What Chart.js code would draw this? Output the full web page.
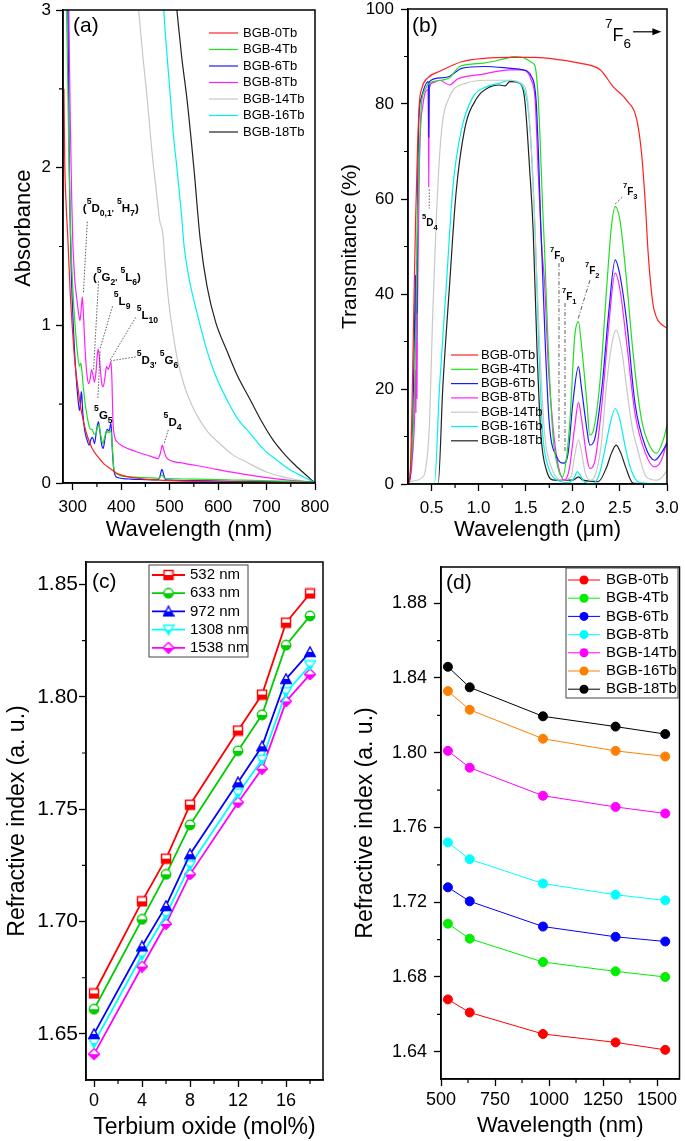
<!DOCTYPE html>
<html>
<head>
<meta charset="utf-8">
<script src="https://cdn.jsdelivr.net/npm/chart.js@4.4.1/dist/chart.umd.min.js"></script>
<style>
  html, body { margin: 0; padding: 0; background: #fff; }
  #wrap { position: relative; width: 685px; height: 1141px; overflow: hidden; }
  .pane { position: absolute; }
</style>
</head>
<body>
<div id="wrap">
  <div class="pane" style="left:0;top:0"><canvas id="chartA" width="340" height="545"></canvas></div>
  <div class="pane" style="left:340px;top:0"><canvas id="chartB" width="345" height="545"></canvas></div>
  <div class="pane" style="left:0;top:545px"><canvas id="chartC" width="340" height="596"></canvas></div>
  <div class="pane" style="left:340px;top:545px"><canvas id="chartD" width="345" height="596"></canvas></div>
</div>
<script>
const FONT = "'Liberation Sans', Arial, Helvetica, sans-serif";

// sample names and line colours (shared by a, b, d)
const sampleNames = ['BGB-0Tb', 'BGB-4Tb', 'BGB-6Tb', 'BGB-8Tb', 'BGB-14Tb', 'BGB-16Tb', 'BGB-18Tb'];
const specColors = ['#ff2020', '#22dd22', '#1a1aff', '#ff20ff', '#c8c8c8', '#00f0f0', '#222222'];

//(a) ABSORPTION: wavelength (nm) / absorbance
const abs0_nm = [282, 283.5, 286, 290, 295, 300, 305, 311, 317, 323, 330, 340, 351, 365, 378, 392, 412, 450, 500, 600, 700, 800];
const abs0_A = [2.5, 2.05, 1.8, 1.55, 1.2, 0.95, 0.75, 0.6, 0.47, 0.38, 0.3, 0.22, 0.17, 0.12, 0.09, 0.06, 0.04, 0.025, 0.015, 0.008, 0.004, 0];
const abs4_nm = [286, 289, 292, 296, 300, 305, 310, 314, 316, 318, 321, 325, 330, 334, 337, 340, 344, 347, 351, 354, 358, 362, 366, 370, 374, 379, 382, 385, 390, 400, 450, 478, 484, 490, 550, 650, 750, 800];
const abs4_A = [3.2, 2.7, 2.1, 1.55, 1.25, 1.0, 0.82, 0.74, 0.76, 0.74, 0.64, 0.52, 0.42, 0.36, 0.34, 0.34, 0.31, 0.31, 0.35, 0.37, 0.3, 0.25, 0.29, 0.33, 0.32, 0.33, 0.22, 0.09, 0.06, 0.045, 0.035, 0.03, 0.05, 0.03, 0.025, 0.018, 0.01, 0.005];
const abs6_nm = [288, 290, 293, 297, 302, 307, 311, 314, 316, 317.5, 319, 321, 325, 330, 334, 338, 341, 345, 349, 353, 356, 360, 363, 367, 371, 375, 379, 382, 385, 392, 420, 475, 480, 484, 488, 492, 550, 650, 800];
const abs6_A = [3.3, 3.0, 2.0, 1.35, 0.95, 0.68, 0.53, 0.46, 0.5, 0.58, 0.55, 0.44, 0.33, 0.27, 0.24, 0.28, 0.29, 0.25, 0.33, 0.39, 0.33, 0.24, 0.22, 0.29, 0.34, 0.33, 0.38, 0.2, 0.08, 0.035, 0.025, 0.02, 0.04, 0.087, 0.05, 0.02, 0.015, 0.01, 0.005];
const abs8_nm = [289, 292, 295, 298, 300, 304, 308, 312, 315, 318, 320, 322, 325, 329, 333, 336, 339, 342, 345, 348, 351, 353, 356, 360, 363, 367, 370, 373, 376, 379, 381, 383, 386, 392, 400, 430, 460, 476, 481, 485, 488, 492, 497, 530, 575, 625, 675, 725, 775, 800];
const abs8_A = [3.6, 3.0, 2.3, 1.8, 1.55, 1.3, 1.18, 1.08, 1.03, 1.12, 1.18, 1.08, 0.88, 0.7, 0.63, 0.66, 0.72, 0.68, 0.64, 0.7, 0.82, 0.85, 0.76, 0.63, 0.61, 0.68, 0.74, 0.72, 0.74, 0.77, 0.65, 0.4, 0.3, 0.26, 0.24, 0.2, 0.17, 0.155, 0.19, 0.24, 0.21, 0.17, 0.15, 0.125, 0.1, 0.07, 0.045, 0.025, 0.01, 0.005];
const abs14_nm = [430, 436, 445, 454, 462, 467, 473, 478, 481, 484, 487, 490, 495, 500, 508, 515, 530, 545, 560, 580, 600, 630, 660, 700, 740, 770, 800];
const abs14_A = [3.15, 3.0, 2.7, 2.43, 2.15, 2.0, 1.84, 1.7, 1.64, 1.62, 1.55, 1.42, 1.24, 1.1, 0.93, 0.8, 0.62, 0.5, 0.41, 0.32, 0.26, 0.18, 0.13, 0.07, 0.035, 0.015, 0];
const abs16_nm = [485, 488, 495, 502, 508, 515, 524, 530, 540, 550, 563, 577, 595, 618, 640, 666, 695, 721, 745, 769, 785, 800];
const abs16_A = [3.2, 3.0, 2.7, 2.43, 2.2, 2.0, 1.72, 1.5, 1.3, 1.16, 1.0, 0.84, 0.68, 0.53, 0.41, 0.315, 0.21, 0.146, 0.09, 0.05, 0.025, 0];
const abs18_nm = [510, 515, 525, 536, 550, 563, 577, 595, 618, 640, 666, 690, 714, 735, 755, 778, 800];
const abs18_A = [3.15, 3.0, 2.7, 2.43, 2.0, 1.55, 1.25, 1.02, 0.84, 0.68, 0.53, 0.39, 0.27, 0.19, 0.125, 0.06, 0];

const absTicksX = [300, 400, 500, 600, 700, 800];
const absMinorX = [350, 450, 550, 650, 750];
const absTicksY = [0, 1, 2, 3];
const absMinorY = [0.5, 1.5, 2.5];

//(b) TRANSMITTANCE: wavelength (um) / T (%)
const tr0_um = [0.25, 0.27, 0.29, 0.31, 0.33, 0.35, 0.37, 0.40, 0.46, 0.60, 0.82, 1.06, 1.35, 1.60, 1.86, 2.07, 2.29, 2.43, 2.57, 2.68, 2.73, 2.77, 2.80, 2.85, 2.89, 2.93, 3.0];
const tr0_T = [0, 1, 14, 35, 55, 70, 80, 83.5, 85.5, 87, 88.9, 89.6, 89.8, 89.8, 89.3, 88.6, 87.2, 83.6, 80.8, 76.6, 69.6, 59, 48.6, 38, 35, 33.8, 32.8];
const tr4_um = [0.25, 0.27, 0.30, 0.32, 0.335, 0.344, 0.36, 0.372, 0.39, 0.43, 0.48, 0.60, 0.69, 0.80, 1.05, 1.29, 1.38, 1.45, 1.52, 1.56, 1.60, 1.63, 1.65, 1.68, 1.70, 1.74, 1.79, 1.84, 1.89, 1.93, 1.97, 2.02, 2.06, 2.09, 2.15, 2.18, 2.22, 2.29, 2.36, 2.41, 2.45, 2.50, 2.57, 2.64, 2.73, 2.82, 2.89, 2.96, 3.0];
const tr4_T = [1.5, 2, 10, 20, 35, 48.6, 62, 69.7, 79.4, 83, 84.4, 85, 85.5, 87.9, 88.6, 89.6, 90, 89.9, 89.3, 88.8, 87.9, 82, 73.9, 58, 49.3, 28.2, 10, 3.6, 1.5, 5, 13.5, 31, 34.2, 29.6, 17, 10.3, 11.4, 21.9, 41.5, 54.2, 58.4, 55.6, 43, 27.5, 13.5, 7.9, 6.5, 9.3, 12.4];
const tr6_um = [0.25, 0.28, 0.30, 0.32, 0.33, 0.335, 0.34, 0.345, 0.35, 0.365, 0.39, 0.465, 0.47, 0.475, 0.60, 0.69, 0.82, 1.06, 1.35, 1.47, 1.56, 1.61, 1.64, 1.66, 1.67, 1.71, 1.75, 1.83, 1.90, 1.95, 2.0, 2.06, 2.09, 2.15, 2.18, 2.23, 2.31, 2.38, 2.45, 2.50, 2.57, 2.66, 2.77, 2.87, 2.94, 3.0];
const tr6_T = [0, 3, 12, 34, 44, 30, 47, 36, 55, 76.6, 81.2, 84.7, 73, 84.7, 85.5, 85.8, 87.5, 87.9, 87.5, 87.2, 85.8, 80.8, 66.8, 54, 49.3, 28.2, 12.8, 5.7, 4.4, 6.5, 17, 24.7, 20.5, 11.4, 8.2, 9.3, 20.5, 35.9, 47.2, 44, 34.5, 17, 7.9, 5, 6.5, 8.6];
const tr8_um = [0.25, 0.28, 0.30, 0.32, 0.33, 0.335, 0.34, 0.345, 0.35, 0.354, 0.372, 0.41, 0.465, 0.47, 0.475, 0.514, 0.585, 0.69, 0.78, 1.05, 1.33, 1.47, 1.56, 1.60, 1.63, 1.67, 1.70, 1.74, 1.79, 1.84, 1.91, 1.96, 2.02, 2.06, 2.09, 2.15, 2.18, 2.23, 2.31, 2.38, 2.45, 2.50, 2.57, 2.66, 2.77, 2.87, 2.94, 3.0];
const tr8_T = [0, 2, 6.5, 14, 24, 15, 30, 18, 35, 41.5, 68.2, 80, 83, 62.6, 83, 84.5, 85, 84, 85.3, 86.3, 87.2, 87.2, 85, 80.8, 66.8, 50, 42.3, 24.7, 12, 4.4, 0.8, 2.9, 12, 17.2, 14, 5.5, 3.3, 4.5, 17, 33, 44.4, 41, 30, 14.9, 6.5, 3.6, 5, 8.9];
const tr14_um = [0.25, 0.41, 0.45, 0.48, 0.51, 0.55, 0.60, 0.69, 0.87, 1.08, 1.33, 1.45, 1.52, 1.56, 1.60, 1.65, 1.70, 1.77, 1.88, 1.98, 2.02, 2.06, 2.09, 2.13, 2.18, 2.24, 2.30, 2.36, 2.41, 2.46, 2.52, 2.57, 2.63, 2.68, 2.78, 2.89, 2.95, 3.0];
const tr14_T = [0.5, 1.5, 5, 13.5, 34.5, 55.6, 73.1, 81.5, 84.4, 85, 85, 84.4, 80.8, 70.3, 52.8, 28.2, 10.7, 3.6, 0.8, 1.5, 6, 9.3, 7, 2.5, 0.8, 2, 8, 21.2, 29, 32.4, 28, 20.5, 12, 7.9, 1.5, 0.8, 1.5, 2.9];
const tr16_um = [0.25, 0.53, 0.585, 0.656, 0.727, 0.816, 0.94, 1.08, 1.22, 1.33, 1.40, 1.51, 1.56, 1.60, 1.64, 1.68, 1.74, 1.84, 1.95, 2.01, 2.05, 2.08, 2.12, 2.20, 2.28, 2.34, 2.40, 2.45, 2.50, 2.56, 2.62, 2.71, 3.0];
const tr16_T = [0, 0, 20.5, 41.5, 62.6, 74.5, 81.5, 83.6, 84.4, 85, 84.7, 81, 70.3, 52.8, 28.2, 10.7, 3.6, 0.8, 0.3, 1.2, 2.6, 1.8, 0.5, 0, 2, 7.2, 13, 15.9, 13.5, 7.5, 2.9, 0.3, 0];
const tr18_um = [0.25, 0.57, 0.62, 0.69, 0.76, 0.85, 0.98, 1.12, 1.22, 1.28, 1.33, 1.43, 1.49, 1.54, 1.58, 1.62, 1.66, 1.72, 1.81, 2.0, 2.06, 2.11, 2.27, 2.36, 2.41, 2.46, 2.51, 2.56, 2.64, 3.0];
const tr18_T = [0, 0, 20.5, 41.5, 61.2, 74.5, 81.2, 83.6, 84, 83.8, 84.7, 84.4, 80.8, 66.8, 52.8, 28.2, 10.7, 2.9, 0.8, 0.8, 1.5, 0.8, 0.5, 3.6, 6.5, 8.2, 6.5, 3.6, 0.2, 0];

const trTicksX = [0.5, 1.0, 1.5, 2.0, 2.5, 3.0];
const trMinorX = [0.75, 1.25, 1.75, 2.25, 2.75];
const trTicksY = [0, 20, 40, 60, 80, 100];
const trMinorY = [10, 30, 50, 70, 90];

//(c) REFRACTIVE INDEX vs Tb2O3 content
const tbMol = [0, 4, 6, 8, 12, 14, 16, 18];
const n532 = [1.668, 1.709, 1.728, 1.752, 1.785, 1.801, 1.833, 1.846];
const n633 = [1.661, 1.701, 1.721, 1.743, 1.776, 1.792, 1.823, 1.836];
const n972 = [1.650, 1.689, 1.707, 1.730, 1.762, 1.778, 1.808, 1.820];
const n1308 = [1.646, 1.685, 1.703, 1.725, 1.757, 1.772, 1.802, 1.814];
const n1538 = [1.641, 1.680, 1.699, 1.721, 1.753, 1.768, 1.798, 1.810];
const probeLabels = ['532 nm', '633 nm', '972 nm', '1308 nm', '1538 nm'];
const molTicks = [0, 4, 8, 12, 16];
const molMinor = [2, 6, 10, 14, 18];
const ncTicks = [1.65, 1.70, 1.75, 1.80, 1.85];
const ncMinor = [1.675, 1.725, 1.775, 1.825];

//(d) REFRACTIVE INDEX vs wavelength
const probeNm = [532, 633, 972, 1308, 1538];
const nTb0 = [1.668, 1.661, 1.6495, 1.645, 1.641];
const nTb4 = [1.7085, 1.7005, 1.688, 1.683, 1.680];
const nTb6 = [1.728, 1.7205, 1.707, 1.7015, 1.699];
const nTb8 = [1.752, 1.743, 1.730, 1.724, 1.721];
const nTb14 = [1.801, 1.792, 1.777, 1.771, 1.7675];
const nTb16 = [1.833, 1.823, 1.8075, 1.801, 1.798];
const nTb18 = [1.846, 1.835, 1.8195, 1.814, 1.810];
const dColors = ['#ff0000', '#00ee00', '#0000ff', '#00ffff', '#ff00ff', '#ff8000', '#000000'];
const wlTicks = [500, 750, 1000, 1250, 1500];
const wlMinor = [625, 875, 1125, 1375];
const ndTicks = [1.64, 1.68, 1.72, 1.76, 1.80, 1.84, 1.88];
const ndMinor = [1.66, 1.70, 1.74, 1.78, 1.82, 1.86];

function pts(xs, ys) { return xs.map((x, i) => ({ x: x, y: ys[i] })); }

// rich text: ^{sup} _{sub}
function drawRich(ctx, str, x, y, size, weight) {
  const re = /\^\{([^}]*)\}|_\{([^}]*)\}|([^^_]+)/g;
  let m, cx = x;
  while ((m = re.exec(str))) {
    let t = m[3], fs = size, dy = 0;
    if (m[1] !== undefined) { t = m[1]; fs = size * 0.75; dy = -size * 0.72; }
    if (m[2] !== undefined) { t = m[2]; fs = size * 0.75; dy = size * 0.35; }
    ctx.font = weight + ' ' + fs + 'px ' + FONT;
    ctx.fillText(t, cx, y + dy);
    cx += ctx.measureText(t).width;
  }
}

function halfMarker(shape, color) {
  const s = 12, c = document.createElement('canvas');
  c.width = s; c.height = s;
  const g = c.getContext('2d');
  const path = () => {
    g.beginPath();
    if (shape === 'square') g.rect(1.5, 1.5, 9, 9);
    else if (shape === 'circle') g.arc(6, 6, 4.7, 0, Math.PI * 2);
    else if (shape === 'up') { g.moveTo(6, 1); g.lineTo(11.2, 10.5); g.lineTo(0.8, 10.5); }
    else if (shape === 'down') { g.moveTo(0.8, 1.5); g.lineTo(11.2, 1.5); g.lineTo(6, 11); }
    else { g.moveTo(6, 0.6); g.lineTo(11.4, 6); g.lineTo(6, 11.4); g.lineTo(0.6, 6); }
    g.closePath();
  };
  path(); g.fillStyle = '#fff'; g.fill();
  g.save(); path(); g.clip(); g.fillStyle = color; g.fillRect(0, 6, s, 6); g.restore();
  path(); g.strokeStyle = color; g.lineWidth = 1.4; g.stroke();
  return c;
}

function axis(o) {
  const vertical = o.pos === 'left';
  return {
    type: 'linear', position: o.pos, min: o.min, max: o.max,
    afterBuildTicks: s => { s.ticks = o.ticks.map(v => ({ value: v })); },
    afterFit: s => {
      if (vertical) { s.width = o.fit; s.paddingTop = 0; s.paddingBottom = 0; }
      else { s.height = o.fit; s.paddingLeft = 0; s.paddingRight = 0; }
    },
    grid: { drawOnChartArea: false, drawTicks: true, tickLength: 7, tickWidth: 1.3, tickColor: '#000' },
    border: { display: true, color: '#000', width: 1.5 },
    ticks: { color: '#000', padding: o.tickPad, autoSkip: false, maxRotation: 0,
             font: { family: FONT, size: o.tickSize }, callback: v => o.fmt(v) },
    title: { display: true, text: o.title, color: '#000',
             font: { family: FONT, size: o.titleSize, lineHeight: 1 },
             padding: { top: o.titlePad, bottom: o.titlePad } }
  };
}

// frame, minor ticks, panel tag, legend and transition labels
function makeDeco(cfg) {
  return {
    id: 'deco',
    afterDraw(chart) {
      const ctx = chart.ctx, a = chart.chartArea, sx = chart.scales.x, sy = chart.scales.y;
      ctx.save();
      ctx.strokeStyle = '#000';
      ctx.lineWidth = 1.2;
      ctx.beginPath();
      cfg.xMinor.forEach(v => { const p = sx.getPixelForValue(v); ctx.moveTo(p, a.bottom); ctx.lineTo(p, a.bottom + 4); });
      cfg.yMinor.forEach(v => { const p = sy.getPixelForValue(v); ctx.moveTo(a.left, p); ctx.lineTo(a.left - 4, p); });
      ctx.stroke();
      ctx.lineWidth = 1.5;
      ctx.strokeRect(a.left, a.top, a.right - a.left, a.bottom - a.top);

      ctx.fillStyle = '#000';
      ctx.textAlign = 'left';
      ctx.textBaseline = 'alphabetic';
      ctx.font = cfg.tag.size + 'px ' + FONT;
      ctx.fillText(cfg.tag.text, cfg.tag.x, cfg.tag.y);

      (cfg.notes || []).forEach(n => {
        if (n.lead) {
          ctx.save();
          ctx.strokeStyle = '#333'; ctx.lineWidth = 0.8;
          ctx.setLineDash(n.dash || [1.5, 1.5]);
          ctx.beginPath();
          ctx.moveTo(sx.getPixelForValue(n.lead[0]), sy.getPixelForValue(n.lead[1]));
          ctx.lineTo(sx.getPixelForValue(n.lead[2]), sy.getPixelForValue(n.lead[3]));
          ctx.stroke();
          ctx.restore();
        }
        if (n.arrow) {
          const x1 = sx.getPixelForValue(n.arrow[0]), x2 = sx.getPixelForValue(n.arrow[2]);
          const yy = sy.getPixelForValue(n.arrow[1]);
          ctx.lineWidth = 1.2;
          ctx.beginPath(); ctx.moveTo(x1, yy); ctx.lineTo(x2 - 6, yy); ctx.stroke();
          ctx.beginPath(); ctx.moveTo(x2, yy); ctx.lineTo(x2 - 9, yy - 3.5); ctx.lineTo(x2 - 9, yy + 3.5); ctx.closePath(); ctx.fill();
        }
        drawRich(ctx, n.text, sx.getPixelForValue(n.at[0]), sy.getPixelForValue(n.at[1]),
                 n.size || cfg.noteSize, n.weight || 'bold');
      });

      const L = cfg.legend;
      if (L.box) { ctx.strokeStyle = '#444'; ctx.lineWidth = 1; ctx.strokeRect(L.box[0], L.box[1], L.box[2], L.box[3]); }
      chart.data.datasets.forEach((ds, i) => {
        const yy = L.y + i * L.dy;
        ctx.strokeStyle = ds.borderColor; ctx.lineWidth = ds.borderWidth;
        ctx.beginPath(); ctx.moveTo(L.x, yy); ctx.lineTo(L.x + L.len, yy); ctx.stroke();
        const mx = L.x + L.len / 2;
        if (ds.pointStyle && ds.pointStyle.getContext) {
          ctx.drawImage(ds.pointStyle, mx - ds.pointStyle.width / 2, yy - ds.pointStyle.height / 2);
        } else if (L.dot) {
          ctx.fillStyle = ds.pointBackgroundColor;
          ctx.beginPath(); ctx.arc(mx, yy, L.dot, 0, Math.PI * 2); ctx.fill();
        }
        ctx.fillStyle = '#000';
        ctx.font = L.size + 'px ' + FONT;
        ctx.textBaseline = 'middle';
        ctx.fillText(ds.label, L.x + L.len + L.gap, yy);
        ctx.textBaseline = 'alphabetic';
      });
      ctx.restore();
    }
  };
}

function specSet(label, color, xs, ys) {
  return { label: label, data: pts(xs, ys), borderColor: color, backgroundColor: color,
           borderWidth: 1.2, pointRadius: 0, cubicInterpolationMode: 'monotone', fill: false };
}

// ---------- (a) ----------
const absX = [abs0_nm, abs4_nm, abs6_nm, abs8_nm, abs14_nm, abs16_nm, abs18_nm];
const absY = [abs0_A, abs4_A, abs6_A, abs8_A, abs14_A, abs16_A, abs18_A];
new Chart(document.getElementById('chartA'), {
  type: 'line',
  data: { datasets: sampleNames.map((n, i) => specSet(n, specColors[i], absX[i], absY[i])) },
  options: {
    responsive: false, animation: false, events: [],
    layout: { padding: { top: 10, right: 25, left: 0, bottom: 0 } },
    plugins: { legend: { display: false }, tooltip: { enabled: false } },
    scales: {
      x: axis({ pos: 'bottom', min: 280, max: 800, ticks: absTicksX, fmt: v => String(v), fit: 62,
                tickSize: 17, tickPad: 7, title: 'Wavelength (nm)', titleSize: 22, titlePad: 4 }),
      // leading no-break spaces lift the rotated title to where the original sits
      y: axis({ pos: 'left', min: 0, max: 3, ticks: absTicksY, fmt: v => String(v), fit: 63,
                tickSize: 17, tickPad: 5, title: '\u00a0\u00a0\u00a0\u00a0\u00a0\u00a0Absorbance', titleSize: 22, titlePad: 13 })
    }
  },
  plugins: [makeDeco({
    xMinor: absMinorX, yMinor: absMinorY,
    tag: { text: '(a)', x: 73, y: 32, size: 21 },
    noteSize: 11.5,
    notes: [
      { text: "(^{5}D_{0,1'} ^{5}H_{7})", at: [321, 1.72], lead: [330.2, 1.657, 322, 1.2] },
      { text: "(^{5}G_{2'} ^{5}L_{6})", at: [341.7, 1.28], lead: [353.4, 1.28, 343.1, 0.72] },
      { text: '^{5}L_{9}', at: [384.9, 1.13], lead: [382.2, 1.12, 356.7, 0.855] },
      { text: '^{5}L_{10}', at: [432, 1.04], lead: [430, 1.05, 377.3, 0.78] },
      { text: "^{5}D_{3'} ^{5}G_{6}", at: [432, 0.755], lead: [430, 0.8, 378.7, 0.775] },
      { text: '^{5}G_{5}', at: [344.2, 0.406], lead: [352, 0.54, 356.7, 0.84] },
      { text: '^{5}D_{4}', at: [487.6, 0.361], lead: [497.2, 0.336, 488.2, 0.245] }
    ],
    legend: { x: 209, y: 33, dy: 16.5, len: 29, gap: 5, size: 13 }
  })]
});

// ---------- (b) ----------
const trX = [tr0_um, tr4_um, tr6_um, tr8_um, tr14_um, tr16_um, tr18_um];
const trY = [tr0_T, tr4_T, tr6_T, tr8_T, tr14_T, tr16_T, tr18_T];
new Chart(document.getElementById('chartB'), {
  type: 'line',
  data: { datasets: sampleNames.map((n, i) => specSet(n, specColors[i], trX[i], trY[i])) },
  options: {
    responsive: false, animation: false, events: [],
    layout: { padding: { top: 9, right: 18, left: 0, bottom: 0 } },
    plugins: { legend: { display: false }, tooltip: { enabled: false } },
    scales: {
      x: axis({ pos: 'bottom', min: 0.25, max: 3.0, ticks: trTicksX, fmt: v => v.toFixed(1), fit: 61,
                tickSize: 17, tickPad: 7, title: 'Wavelength (\u03bcm)', titleSize: 22, titlePad: 4 }),
      y: axis({ pos: 'left', min: 0, max: 100, ticks: trTicksY, fmt: v => String(v), fit: 68,
                tickSize: 17, tickPad: 7, title: 'Transmitance (%)', titleSize: 21, titlePad: 0 })
    }
  },
  plugins: [makeDeco({
    xMinor: trMinorX, yMinor: trMinorY,
    tag: { text: '(b)', x: 72, y: 32, size: 21 },
    noteSize: 10,
    notes: [
      { text: '^{7}F_{6}', at: [2.342, 93.2], size: 18, weight: 'normal', arrow: [2.64, 95.2, 2.94, 95.2] },
      { text: '^{5}D_{4}', at: [0.399, 54.3], lead: [0.476, 62, 0.476, 58] },
      { text: '^{7}F_{0}', at: [1.758, 47.4], lead: [1.853, 46.5, 1.853, 8.8], dash: [4, 2, 1, 2] },
      { text: '^{7}F_{1}', at: [1.885, 38.7], lead: [1.917, 38.1, 1.917, 6.5], dash: [4, 2, 1, 2] },
      { text: '^{7}F_{2}', at: [2.129, 44.2], lead: [2.182, 42.9, 2.052, 34.5], dash: [4, 2, 1, 2] },
      { text: '^{7}F_{3}', at: [2.533, 60.8], lead: [2.525, 60.4, 2.448, 58.9], dash: [2, 2] }
    ],
    legend: { x: 111, y: 355, dy: 14.3, len: 27, gap: 3, size: 13 }
  })]
});

// ---------- (c) ----------
const ncSeries = [n532, n633, n972, n1308, n1538];
const ncColors = ['#ff0000', '#00cc00', '#0000ff', '#00ffff', '#ff00ff'];
const ncShapes = ['square', 'circle', 'up', 'down', 'diamond'];
new Chart(document.getElementById('chartC'), {
  type: 'line',
  data: {
    datasets: probeLabels.map((l, i) => ({
      label: l, data: pts(tbMol, ncSeries[i]), borderColor: ncColors[i], backgroundColor: ncColors[i],
      borderWidth: 1.8, pointStyle: halfMarker(ncShapes[i], ncColors[i]), pointRadius: 6, fill: false
    }))
  },
  options: {
    responsive: false, animation: false, events: [],
    layout: { padding: { top: 17, right: 17, left: 0, bottom: 0 } },
    plugins: { legend: { display: false }, tooltip: { enabled: false } },
    scales: {
      x: axis({ pos: 'bottom', min: -0.67, max: 19.08, ticks: molTicks, fmt: v => String(v), fit: 61,
                tickSize: 18, tickPad: 3, title: 'Terbium oxide (mol%)', titleSize: 23, titlePad: 2 }),
      y: axis({ pos: 'left', min: 1.6295, max: 1.860, ticks: ncTicks, fmt: v => v.toFixed(2), fit: 86,
                tickSize: 21, tickPad: 1, title: 'Refractive index (a. u.)', titleSize: 23, titlePad: 6 })
    }
  },
  plugins: [makeDeco({
    xMinor: molMinor, yMinor: ncMinor,
    tag: { text: '(c)', x: 92, y: 43, size: 21 },
    legend: { x: 152, y: 30, dy: 18.2, len: 33, gap: 5, size: 15, box: [149, 20, 99, 92] }
  })]
});

// ---------- (d) ----------
const ndSeries = [nTb0, nTb4, nTb6, nTb8, nTb14, nTb16, nTb18];
new Chart(document.getElementById('chartD'), {
  type: 'line',
  data: {
    datasets: sampleNames.map((n, i) => ({
      label: n, data: pts(probeNm, ndSeries[i]), borderColor: dColors[i], backgroundColor: dColors[i],
      pointBackgroundColor: dColors[i], pointBorderColor: dColors[i],
      borderWidth: 1, pointRadius: 4.5, pointStyle: 'circle', fill: false
    }))
  },
  options: {
    responsive: false, animation: false, events: [],
    layout: { padding: { top: 22, right: 3, left: 0, bottom: 0 } },
    plugins: { legend: { display: false }, tooltip: { enabled: false } },
    scales: {
      x: axis({ pos: 'bottom', min: 500, max: 1604, ticks: wlTicks, fmt: v => String(v), fit: 62,
                tickSize: 18, tickPad: 3, title: 'Wavelength (nm)', titleSize: 22, titlePad: 4 }),
      y: axis({ pos: 'left', min: 1.6254, max: 1.8994, ticks: ndTicks, fmt: v => v.toFixed(2), fit: 101,
                tickSize: 18, tickPad: 7, title: 'Refractive index (a. u.)', titleSize: 23, titlePad: 14 })
    }
  },
  plugins: [makeDeco({
    xMinor: wlMinor, yMinor: ndMinor,
    tag: { text: '(d)', x: 106, y: 44, size: 21 },
    legend: { x: 228, y: 35, dy: 18.2, len: 32, gap: 6, size: 15, box: [226, 23, 112, 130], dot: 4.5 }
  })]
});
</script>
</body>
</html>
